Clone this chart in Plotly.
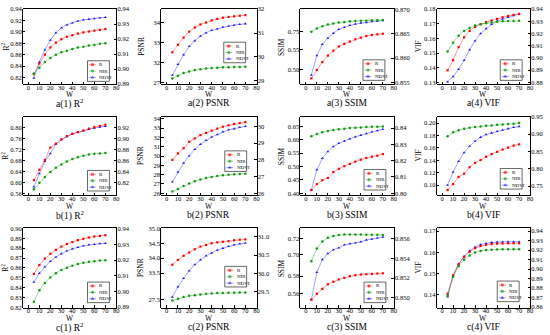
import plotly.graph_objects as go

W = [5, 10, 15, 20, 25, 30, 35, 40, 45, 50, 55, 60, 65, 70]
SERIES = ["R", "NIR", "NDVI"]
X_TICKS = [0, 10, 20, 30, 40, 50, 60, 70, 80]

a1_R = [0.8257, 0.8443, 0.8600, 0.8726, 0.8810, 0.8870, 0.8914, 0.8940, 0.8970, 0.8990, 0.9006, 0.9020, 0.9034, 0.9050]
a1_NIR = [0.8269, 0.8370, 0.8470, 0.8543, 0.8600, 0.8640, 0.8670, 0.8700, 0.8726, 0.8740, 0.8760, 0.8770, 0.8790, 0.8800]
a1_NDVI = [0.8939, 0.9047, 0.9129, 0.9194, 0.9242, 0.9275, 0.9296, 0.9309, 0.9320, 0.9329, 0.9333, 0.9337, 0.9342, 0.9346]

a2_R = [32.52, 32.90, 33.26, 33.56, 33.77, 33.92, 34.02, 34.13, 34.20, 34.26, 34.30, 34.33, 34.36, 34.39]
a2_NIR = [27.20, 27.33, 27.47, 27.55, 27.63, 27.67, 27.70, 27.73, 27.75, 27.77, 27.77, 27.78, 27.78, 27.80]
a2_NDVI = [29.24, 29.69, 30.09, 30.44, 30.68, 30.87, 31.01, 31.11, 31.18, 31.25, 31.29, 31.33, 31.36, 31.39]

a3_R = [0.4767, 0.4983, 0.5183, 0.5350, 0.5475, 0.5583, 0.5650, 0.5708, 0.5767, 0.5808, 0.5850, 0.5875, 0.5892, 0.5908]
a3_NIR = [0.7493, 0.7575, 0.7633, 0.7675, 0.7700, 0.7725, 0.7743, 0.7758, 0.7768, 0.7775, 0.7775, 0.7783, 0.7783, 0.7793]
a3_NDVI = [0.8565, 0.8605, 0.8628, 0.8641, 0.8651, 0.8659, 0.8663, 0.8667, 0.8670, 0.8672, 0.8673, 0.8675, 0.8676, 0.8677]

a4_R = [0.1382, 0.1451, 0.1540, 0.1607, 0.1651, 0.1678, 0.1696, 0.1711, 0.1722, 0.1733, 0.1744, 0.1753, 0.1760, 0.1767]
a4_NIR = [0.1511, 0.1571, 0.1618, 0.1651, 0.1671, 0.1687, 0.1696, 0.1704, 0.1709, 0.1713, 0.1716, 0.1718, 0.1718, 0.1720]
a4_NDVI = [0.8805, 0.8848, 0.8907, 0.8981, 0.9067, 0.9141, 0.9200, 0.9240, 0.9275, 0.9301, 0.9320, 0.9333, 0.9347, 0.9360]

b1_R = [0.6076, 0.6456, 0.6812, 0.7264, 0.7406, 0.7561, 0.7679, 0.7762, 0.7822, 0.7881, 0.7952, 0.8012, 0.8048, 0.8095]
b1_NIR = [0.5743, 0.5981, 0.6195, 0.6373, 0.6527, 0.6646, 0.6753, 0.6848, 0.6907, 0.6967, 0.7014, 0.7038, 0.7050, 0.7062]
b1_NDVI = [0.8129, 0.8365, 0.8588, 0.8729, 0.8894, 0.8982, 0.9035, 0.9082, 0.9112, 0.9141, 0.9171, 0.9188, 0.9206, 0.9218]

b2_R = [29.58, 30.28, 30.84, 31.54, 31.89, 32.25, 32.49, 32.74, 32.95, 33.16, 33.30, 33.44, 33.54, 33.65]
b2_NIR = [26.18, 26.46, 26.77, 27.05, 27.30, 27.47, 27.65, 27.75, 27.86, 27.93, 28.00, 28.04, 28.07, 28.11]
b2_NDVI = [26.68, 27.27, 27.80, 28.24, 28.63, 28.93, 29.16, 29.36, 29.51, 29.67, 29.79, 29.86, 29.94, 30.00]

b3_R = [0.4122, 0.4341, 0.4488, 0.4573, 0.4793, 0.4915, 0.5012, 0.5098, 0.5183, 0.5256, 0.5317, 0.5366, 0.5402, 0.5463]
b3_NIR = [0.6134, 0.6220, 0.6280, 0.6329, 0.6366, 0.6390, 0.6415, 0.6439, 0.6451, 0.6463, 0.6476, 0.6488, 0.6488, 0.6500]
b3_NDVI = [0.8020, 0.8144, 0.8214, 0.8256, 0.8286, 0.8306, 0.8320, 0.8334, 0.8346, 0.8356, 0.8366, 0.8376, 0.8384, 0.8392]

b4_R = [0.0921, 0.1016, 0.1132, 0.1184, 0.1289, 0.1358, 0.1405, 0.1458, 0.1500, 0.1537, 0.1574, 0.1605, 0.1637, 0.1658]
b4_NIR = [0.1789, 0.1853, 0.1884, 0.1911, 0.1926, 0.1937, 0.1947, 0.1958, 0.1963, 0.1974, 0.1979, 0.1984, 0.1989, 0.2000]
b4_NDVI = [0.7528, 0.7904, 0.8214, 0.8467, 0.8655, 0.8796, 0.8908, 0.8984, 0.9031, 0.9077, 0.9115, 0.9153, 0.9190, 0.9218]

c1_R = [0.8539, 0.8628, 0.8694, 0.8743, 0.8783, 0.8816, 0.8842, 0.8862, 0.8881, 0.8895, 0.8908, 0.8918, 0.8924, 0.8931]
c1_NIR = [0.8256, 0.8374, 0.8447, 0.8503, 0.8546, 0.8579, 0.8602, 0.8621, 0.8638, 0.8651, 0.8661, 0.8667, 0.8674, 0.8677]
c1_NDVI = [0.9060, 0.9115, 0.9156, 0.9192, 0.9219, 0.9240, 0.9258, 0.9271, 0.9281, 0.9290, 0.9296, 0.9300, 0.9304, 0.9306]

c2_R = [33.78, 33.94, 34.08, 34.19, 34.30, 34.39, 34.44, 34.50, 34.53, 34.55, 34.57, 34.60, 34.62, 34.63]
c2_NIR = [27.47, 27.53, 27.59, 27.63, 27.65, 27.67, 27.70, 27.71, 27.72, 27.72, 27.73, 27.73, 27.74, 27.74]
c2_NDVI = [29.35, 29.63, 29.86, 30.07, 30.24, 30.37, 30.48, 30.56, 30.64, 30.69, 30.74, 30.78, 30.81, 30.83]

c3_R = [0.5533, 0.5600, 0.5656, 0.5708, 0.5737, 0.5763, 0.5781, 0.5800, 0.5811, 0.5819, 0.5822, 0.5826, 0.5830, 0.5833]
c3_NIR = [0.6920, 0.7076, 0.7160, 0.7205, 0.7228, 0.7240, 0.7245, 0.7245, 0.7245, 0.7245, 0.7242, 0.7242, 0.7242, 0.7240]
c3_NDVI = [0.8498, 0.8526, 0.8539, 0.8545, 0.8549, 0.8551, 0.8554, 0.8555, 0.8556, 0.8557, 0.8559, 0.8560, 0.8561, 0.8562]

c4_R = [0.1405, 0.1492, 0.1545, 0.1578, 0.1603, 0.1620, 0.1630, 0.1636, 0.1639, 0.1641, 0.1642, 0.1643, 0.1643, 0.1643]
c4_NIR = [0.1395, 0.1485, 0.1535, 0.1565, 0.1585, 0.1600, 0.1607, 0.1611, 0.1613, 0.1614, 0.1615, 0.1615, 0.1615, 0.1615]
c4_NDVI = [0.8705, 0.8929, 0.9052, 0.9135, 0.9193, 0.9232, 0.9258, 0.9272, 0.9281, 0.9285, 0.9288, 0.9288, 0.9288, 0.9288]


def steps(a, b, s, nd=4):
    out, v = [], a
    while v <= b + s * 1e-6:
        out.append(round(v, nd))
        v += s
    return out


PANELS = [
    dict(r=0, c=0, label="a(1) R<sup>2</sup>", yt="R<sup>2</sup>", data=[a1_R, a1_NIR, a1_NDVI],
         left=[dict(span=(5, 82), rng=[0.808, 0.9402], tv=steps(0.82, 0.94, 0.02), fmt=".2f", on=["R", "NIR"])],
         right=dict(rng=[0.8898, 0.9402], tv=steps(0.89, 0.94, 0.01), fmt=".2f"), leg=(88, 58)),
    dict(r=0, c=1, label="a(2) PSNR", yt="PSNR", data=[a2_R, a2_NIR, a2_NDVI],
         left=[dict(span=(62, 82), rng=[26.9, 27.9], tv=[27], fmt="d", on=["NIR"]),
               dict(span=(5, 62), rng=[31.897, 34.704], tv=[32, 33, 34], fmt="d", on=["R"])],
         right=dict(rng=[28.857, 32.01], tv=[29, 30, 31, 32], fmt="d"), leg=(225, 39)),
    dict(r=0, c=2, label="a(3) SSIM", yt="SSIM", data=[a3_R, a3_NIR, a3_NDVI],
         left=[dict(span=(29.5, 82), rng=[0.4617, 0.5930], tv=[0.50, 0.55], fmt=".2f", on=["R"]),
               dict(span=(5, 29.5), rng=[0.7463, 0.8075], tv=[0.75], fmt=".2f", on=["NIR"])],
         right=dict(rng=[0.8546, 0.8701], tv=[0.855, 0.860, 0.865, 0.870], fmt=".3f"), leg=(365, 57)),
    dict(r=0, c=3, label="a(4) VIF", yt="VIF", data=[a4_R, a4_NIR, a4_NDVI],
         left=[dict(span=(5, 82), rng=[0.1287, 0.1801], tv=steps(0.13, 0.18, 0.01), fmt=".2f", on=["R", "NIR"])],
         right=dict(rng=[0.8784, 0.9402], tv=steps(0.88, 0.94, 0.01), fmt=".2f"), leg=(503, 57)),
    dict(r=1, c=0, label="b(1) R<sup>2</sup>", yt="R<sup>2</sup>", data=[b1_R, b1_NIR, b1_NDVI],
         left=[dict(span=(115, 195), rng=[0.554, 0.839], tv=steps(0.56, 0.80, 0.04), fmt=".2f", on=["R", "NIR"])],
         right=dict(rng=[0.7982, 0.9394], tv=steps(0.82, 0.92, 0.02), fmt=".2f"), leg=(88, 170)),
    dict(r=1, c=1, label="b(2) PSNR", yt="PSNR", data=[b2_R, b2_NIR, b2_NDVI],
         left=[dict(span=(115, 195), rng=[25.82, 34.24], tv=steps(26, 34, 1), fmt="d", on=["R", "NIR"])],
         right=dict(rng=[25.9, 30.585], tv=steps(26, 30, 1), fmt="d"), leg=(226, 150)),
    dict(r=1, c=2, label="b(3) SSIM", yt="SSIM", data=[b3_R, b3_NIR, b3_NDVI],
         left=[dict(span=(115, 195), rng=[0.3938, 0.6866], tv=steps(0.40, 0.65, 0.05), fmt=".2f", on=["R", "NIR"])],
         right=dict(rng=[0.799, 0.847], tv=steps(0.80, 0.84, 0.01), fmt=".2f"), leg=(366, 169)),
    dict(r=1, c=3, label="b(4) VIF", yt="VIF", data=[b4_R, b4_NIR, b4_NDVI],
         left=[dict(span=(115, 195), rng=[0.0842, 0.2105], tv=steps(0.10, 0.20, 0.02), fmt=".2f", on=["R", "NIR"])],
         right=dict(rng=[0.7246, 0.9502], tv=steps(0.75, 0.95, 0.05), fmt=".2f"), leg=(503, 168)),
    dict(r=2, c=0, label="c(1) R<sup>2</sup>", yt="R<sup>2</sup>", data=[c1_R, c1_NIR, c1_NDVI],
         left=[dict(span=(229, 310), rng=[0.8198, 0.9002], tv=steps(0.82, 0.90, 0.01), fmt=".2f", on=["R", "NIR"])],
         right=dict(rng=[0.8898, 0.9402], tv=steps(0.89, 0.94, 0.01), fmt=".2f"), leg=(88, 284)),
    dict(r=2, c=1, label="c(2) PSNR", yt="PSNR", data=[c2_R, c2_NIR, c2_NDVI],
         left=[dict(span=(285, 310), rng=[27.238, 28.057], tv=[27.5], fmt=".1f", on=["NIR"]),
               dict(span=(229, 285), rng=[33.164, 35.005], tv=[33.5, 34.0, 34.5, 35.0], fmt=".1f", on=["R"])],
         right=dict(rng=[29.06, 31.24], tv=[29.5, 30.0, 30.5, 31.0], fmt=".1f"), leg=(226, 268)),
    dict(r=2, c=2, label="c(3) SSIM", yt="SSIM", data=[c3_R, c3_NIR, c3_NDVI],
         left=[dict(span=(271, 310), rng=[0.5444, 0.5878], tv=[0.56, 0.58], fmt=".2f", on=["R"]),
               dict(span=(229, 271), rng=[0.682, 0.7323], tv=[0.70, 0.72], fmt=".2f", on=["NIR"])],
         right=dict(rng=[0.849, 0.8571], tv=steps(0.850, 0.856, 0.002), fmt=".3f"), leg=(366, 284)),
    dict(r=2, c=3, label="c(4) VIF", yt="VIF", data=[c4_R, c4_NIR, c4_NDVI],
         left=[dict(span=(229, 310), rng=[0.134, 0.1714], tv=steps(0.14, 0.17, 0.01), fmt=".2f", on=["R", "NIR"])],
         right=dict(rng=[0.8593, 0.9431], tv=steps(0.86, 0.94, 0.01), fmt=".2f"), leg=(500, 283)),
]

FW, FH = 550, 335
ROWS = [(5, 82), (115, 195), (229, 310)]
COLS = [(23, 117), (162, 258), (302, 396), (439, 533)]
ROW_W = [92.5, 206.5, 321]
ROW_T = [102, 216.5, 330]
COL_YT = [5, 142, 283, 421]

FONT = "Liberation Serif"
MARK = {"R": "square", "NIR": "circle", "NDVI": "triangle-up"}
MSIZE = {"R": 2.2, "NIR": 2.5, "NDVI": 2.7}
MCOL = {"R": "#ff0000", "NIR": "#109a10", "NDVI": "#1a1aff"}
LCOL = {"R": "rgba(255,0,0,0.5)", "NIR": "rgba(16,154,16,0.5)", "NDVI": "rgba(26,26,255,0.5)"}


def px(x):
    return x / FW


def py(y):
    return 1 - y / FH


layout = dict(width=FW, height=FH, margin=dict(l=0, r=0, t=0, b=0), autosize=False,
              paper_bgcolor="white", plot_bgcolor="rgba(0,0,0,0)", showlegend=False,
              font=dict(family=FONT, size=7, color="black"))
traces = []
annotations = []
counter = {"x": 0, "y": 0}


def new_axis(kind):
    counter[kind] += 1
    n = counter[kind]
    suffix = "" if n == 1 else str(n)
    return kind + "axis" + suffix, kind + suffix


def axis_style():
    return dict(showline=True, linecolor="black", linewidth=0.8, ticks="inside", ticklen=2.5,
                tickwidth=0.7, tickcolor="black", showgrid=False, zeroline=False,
                ticklabelstandoff=-1, tickfont=dict(family=FONT, size=6.5, color="black"))


for p in PANELS:
    x0, x1 = COLS[p["c"]]
    ytop, ybot = ROWS[p["r"]]
    xname, xref = new_axis("x")
    yrname, yrref = new_axis("y")
    ax = axis_style()
    ax.update(domain=[py(ybot), py(ytop)], anchor=xref, side="right", range=p["right"]["rng"],
              tickvals=p["right"]["tv"], tickformat=p["right"]["fmt"])
    layout[yrname] = ax
    ax = axis_style()
    ax.update(domain=[px(x0), px(x1)], anchor=yrref, range=[-5, 80], tickvals=X_TICKS, mirror=True,
              ticklabelstandoff=-3)
    layout[xname] = ax
    series = dict(zip(SERIES, p["data"]))
    for seg in p["left"]:
        ylname, ylref = new_axis("y")
        ax = axis_style()
        s0, s1 = seg["span"]
        ax.update(domain=[py(s1), py(s0)], anchor=xref, side="left", range=seg["rng"],
                  tickvals=seg["tv"], tickformat=seg["fmt"])
        layout[ylname] = ax
        for s in seg["on"]:
            traces.append(go.Scatter(x=W, y=series[s], xaxis=xref, yaxis=ylref, mode="lines+markers",
                                     line=dict(color=LCOL[s], width=0.8), cliponaxis=False,
                                     marker=dict(symbol=MARK[s], size=MSIZE[s], color=MCOL[s]), name=s))
    traces.append(go.Scatter(x=W, y=series["NDVI"], xaxis=xref, yaxis=yrref, mode="lines+markers",
                             line=dict(color=LCOL["NDVI"], width=0.8), cliponaxis=False,
                             marker=dict(symbol=MARK["NDVI"], size=MSIZE["NDVI"], color=MCOL["NDVI"]),
                             name="NDVI"))
    xc = (x0 + x1) / 2
    annotations.append(dict(x=px(xc), y=py(ROW_W[p["r"]]), text="W", showarrow=False, xref="paper",
                            yref="paper", font=dict(family=FONT, size=7.5), xanchor="center", yanchor="middle"))
    annotations.append(dict(x=px(xc), y=py(ROW_T[p["r"]]), text=p["label"], showarrow=False, xref="paper",
                            yref="paper", font=dict(family=FONT, size=9.5), xanchor="center", yanchor="middle"))
    annotations.append(dict(x=px(COL_YT[p["c"]]), y=py((ytop + ybot) / 2), text=p["yt"], showarrow=False,
                            xref="paper", yref="paper", textangle=-90, font=dict(family=FONT, size=7.5),
                            xanchor="center", yanchor="middle"))

# overlay axis in pixel units for the small per-panel legends
oxname, oxref = new_axis("x")
oyname, oyref = new_axis("y")
layout[oxname] = dict(domain=[0, 1], range=[0, FW], visible=False, anchor=oyref, fixedrange=True)
layout[oyname] = dict(domain=[0, 1], range=[FH, 0], visible=False, anchor=oxref, fixedrange=True)
LW, LH = 22, 21
for p in PANELS:
    lx, ly = p["leg"]
    traces.append(go.Scatter(x=[lx, lx + LW, lx + LW, lx, lx], y=[ly, ly, ly + LH, ly + LH, ly],
                             xaxis=oxref, yaxis=oyref, mode="lines", fill="toself", fillcolor="white",
                             line=dict(color="black", width=0.6), cliponaxis=False, hoverinfo="skip"))
    for k, s in enumerate(SERIES):
        yy = ly + 4 + 6.5 * k
        traces.append(go.Scatter(x=[lx + 1.5, lx + 5, lx + 8.5], y=[yy, yy, yy], xaxis=oxref, yaxis=oyref,
                                 mode="lines+markers", line=dict(color=LCOL[s], width=0.8), cliponaxis=False,
                                 marker=dict(symbol=MARK[s], size=[0, MSIZE[s], 0], color=MCOL[s]),
                                 hoverinfo="skip"))
        annotations.append(dict(x=px(lx + 10), y=py(yy), text=s, showarrow=False, xref="paper", yref="paper",
                                font=dict(family=FONT, size=5), xanchor="left", yanchor="middle"))

layout["annotations"] = annotations
fig = go.Figure(data=traces, layout=layout)
fig.write_html("out.html", config={"displayModeBar": False},
               post_script="document.body.style.margin='0px';document.body.style.overflow='hidden';")
